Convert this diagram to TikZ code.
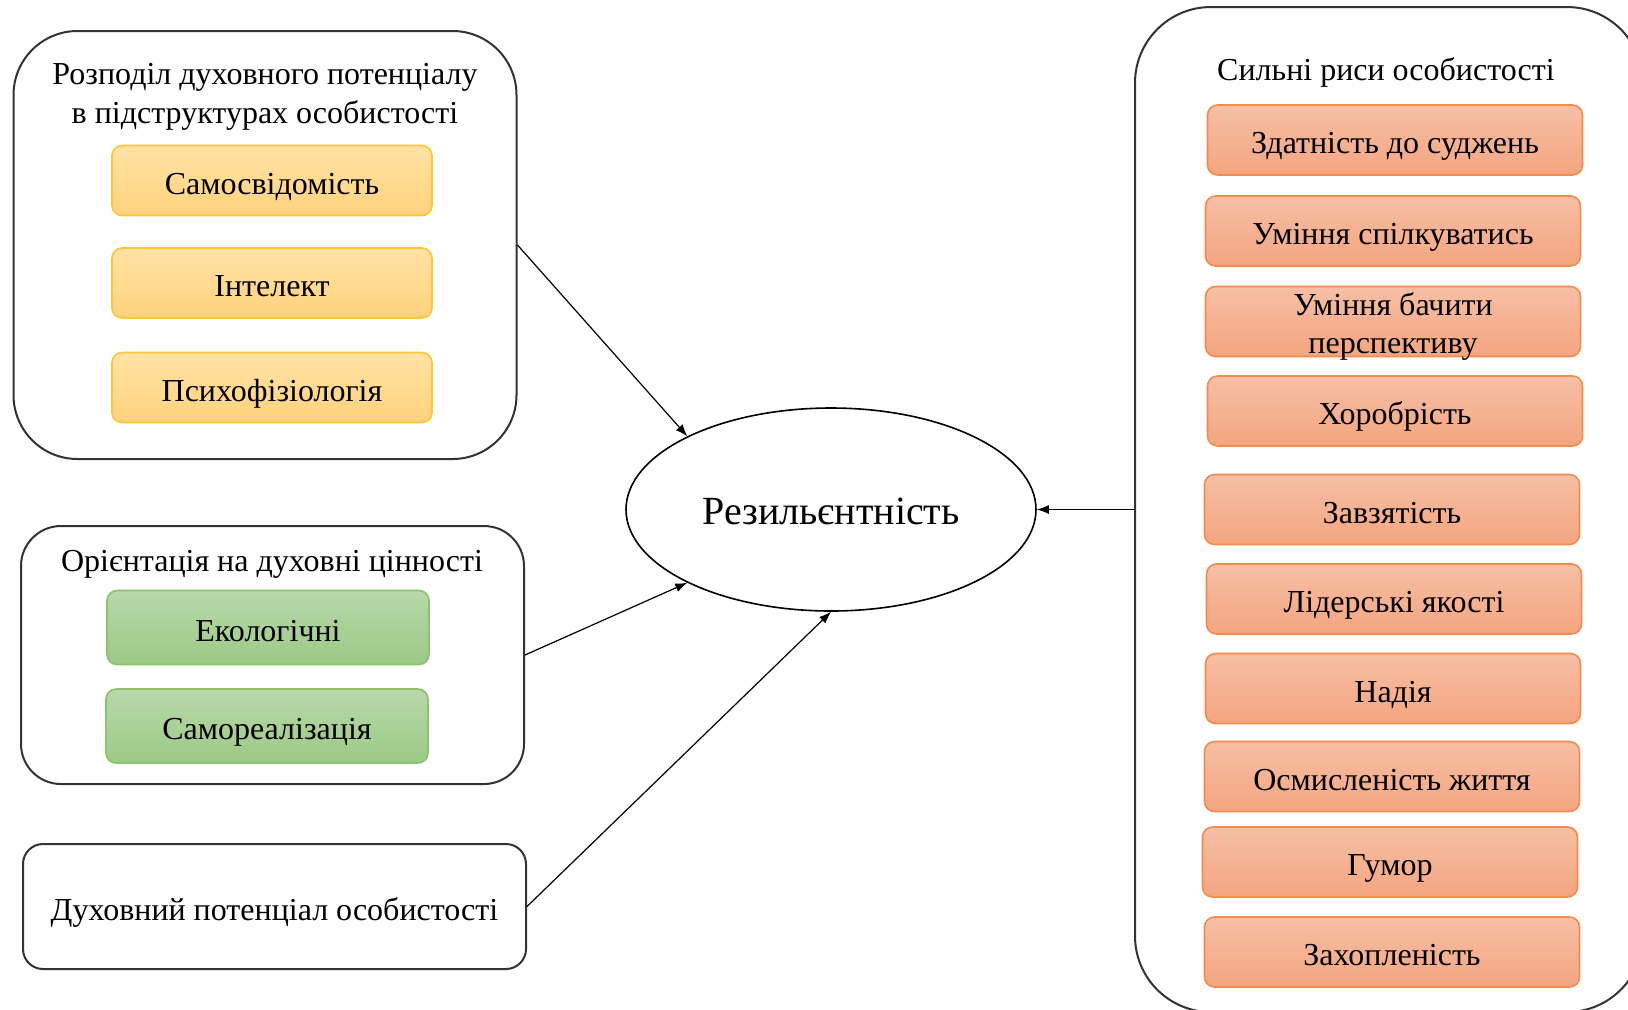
\documentclass[tikz,border=0pt]{standalone}
\usepackage{fontspec}
\setmainfont{Liberation Serif}
\usetikzlibrary{shapes.geometric,arrows.meta}

\definecolor{ytop}{HTML}{FFE2A6}
\definecolor{ybot}{HTML}{FFD27C}
\definecolor{yline}{HTML}{FFC632}
\definecolor{gtop}{HTML}{B8D8AA}
\definecolor{gbot}{HTML}{9CCA86}
\definecolor{gline}{HTML}{8CC26C}
\definecolor{otop}{HTML}{F6BFA5}
\definecolor{obot}{HTML}{F4A580}
\definecolor{oline}{HTML}{F08C4E}

\begin{document}
\begin{tikzpicture}[x=0.5pt,y=-0.5pt]
\tikzstyle{group}=[rectangle, draw=black!80, line width=1pt, minimum width=251.5pt, inner sep=0pt, font=\fontsize{16}{18.5}\selectfont]
\tikzstyle{title}=[align=center, inner sep=0pt, font=\fontsize{16}{19.5}\selectfont]
\tikzstyle{item}=[rectangle, rounded corners=5pt, line width=0.8pt, minimum height=35pt, inner sep=0pt, align=center, text height=15pt, text depth=1.5pt, font=\fontsize{16}{19}\selectfont]
\tikzstyle{yitem}=[item, draw=yline, top color=ytop, bottom color=ybot, minimum width=160pt]
\tikzstyle{gitem}=[item, draw=gline, top color=gtop, bottom color=gbot, minimum width=161pt, minimum height=37pt]
\tikzstyle{oitem}=[item, draw=oline, top color=otop, bottom color=obot, minimum width=187.5pt]
\tikzstyle{link}=[line width=0.6pt, -{Latex[length=6pt,width=4.5pt]}]

\useasboundingbox (0,0) rectangle (1628,1009);
\clip (0,0) rectangle (1628,1009);

% left groups
\node[group, rounded corners=32pt, minimum height=214pt] (A) at (265,245) {};
\node[title] (At) at (265,97) {Розподіл духовного потенціалу\\в підструктурах особистості};
\node[yitem] (A1) at (272,180.5) {Самосвідомість};
\node[yitem] (A2) at (272,283) {Інтелект};
\node[yitem] (A3) at (272,387.5) {Психофізіологія};

\node[group, rounded corners=20pt, minimum height=129pt] (B) at (272.5,655) {};
\node[title] (Bt) at (272,564) {Орієнтація на духовні цінності};
\node[gitem] (B1) at (268,627.5) {Екологічні};
\node[gitem] (B2) at (267,726) {Самореалізація};

\node[group, rounded corners=10pt, minimum height=62.5pt, text height=15pt, text depth=1.5pt] (C) at (274.5,906.5) {Духовний потенціал особистості};

% centre
\node[ellipse, draw, line width=0.8pt, minimum width=205pt, minimum height=101.5pt, inner sep=0pt,
  text height=16pt, text depth=1pt, font=\fontsize{20}{24}\selectfont] (R) at (831,509.5) {Резильєнтність};

% right group
\node[group, rounded corners=38pt, minimum width=254pt, minimum height=502.5pt] (D) at (1389,509.5) {};
\node[title] (Dt) at (1386,72) {Сильні риси особистості};
\node[oitem] (D1) at (1395,140) {Здатність до суджень};
\node[oitem] (D2) at (1393,231) {Уміння спілкуватись};
\node[oitem] (D3) at (1393,321.5) {};
\node[title, font=\fontsize{16}{19}\selectfont] (D3t) at (1393,326) {Уміння бачити\\перспективу};
\node[oitem] (D4) at (1395,411) {Хоробрість};
\node[oitem] (D5) at (1392,509.5) {Завзятість};
\node[oitem] (D6) at (1394,599) {Лідерські якості};
\node[oitem] (D7) at (1393,688.5) {Надія};
\node[oitem] (D8) at (1392,776.5) {Осмисленість життя};
\node[oitem] (D9) at (1390,862) {Гумор};
\node[oitem] (D10) at (1392,952) {Захопленість};

\draw[link] (A.east) -- (R.153);
\draw[link] (B.east) -- (R.207);
\draw[link] (C.east) -- (R.south);
\draw[link] (D.west) -- (R.east);
\end{tikzpicture}
\end{document}
